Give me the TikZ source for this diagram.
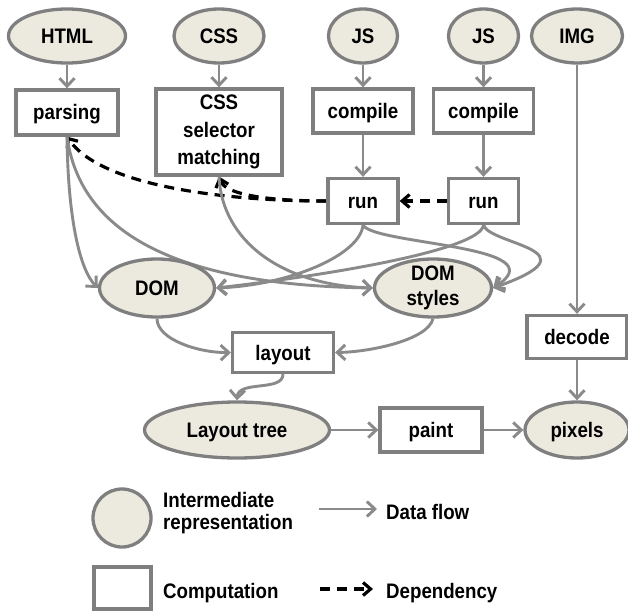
\documentclass[tikz,border=0pt]{standalone}
\usepackage{fontspec}
\setmainfont{Liberation Sans}[FakeStretch=0.89]
\usetikzlibrary{shapes.geometric,arrows.meta,backgrounds}
\definecolor{irfill}{HTML}{ECEADF}
\definecolor{bordergray}{HTML}{7F7F7F}
\definecolor{linegray}{HTML}{8A8A8A}
\begin{document}
\begin{tikzpicture}[x=1pt,y=-1pt,
  every node/.style={font=\bfseries\fontsize{21pt}{25pt}\selectfont, text=black},
  irnode/.style={ellipse, draw=bordergray, line width=3.3pt, fill=irfill, inner sep=0pt},
  compbox/.style={rectangle, draw=bordergray, line width=3.3pt, fill=white, inner sep=0pt},
  oneline/.style={text height=15pt, text depth=0pt},
  flow/.style={draw=linegray, line width=2.9pt, -{Straight Barb[length=8pt,width=15pt]}},
  dep/.style={draw=black, line width=3.2pt, dash pattern=on 10pt off 7pt, -{Straight Barb[length=7.5pt,width=13pt]}},
  legtext/.style={anchor=west, inner sep=0pt},
]
\useasboundingbox (0,0) rectangle (628,612);

% inputs
\node[irnode, oneline, minimum width=117pt, minimum height=54pt] (html) at (67,36) {HTML};
\node[irnode, oneline, minimum width=90pt, minimum height=54pt] (css) at (219,36) {CSS};
\node[irnode, oneline, minimum width=69pt, minimum height=54pt] (js1) at (363,36) {JS};
\node[irnode, oneline, minimum width=70pt, minimum height=54pt] (js2) at (483.5,36) {JS};
\node[irnode, oneline, minimum width=91pt, minimum height=54pt] (img) at (577,36) {IMG};

% computations
\node[compbox, oneline, minimum width=102pt, minimum height=45pt] (parsing) at (67,112.5) {parsing};
\node[compbox, align=center, font=\bfseries\fontsize{21pt}{27.5pt}\selectfont, minimum width=126pt, minimum height=86pt] (cssm) at (219,132) {CSS\\selector\\matching};
\node[compbox, oneline, minimum width=100pt, minimum height=44pt] (comp1) at (363,111) {compile};
\node[compbox, oneline, minimum width=100pt, minimum height=44pt] (comp2) at (483.5,111) {compile};
\node[compbox, oneline, minimum width=70pt, minimum height=45pt] (run1) at (363,201) {run};
\node[compbox, oneline, minimum width=70pt, minimum height=45pt] (run2) at (483.5,201) {run};

% intermediate
\node[irnode, oneline, minimum width=115pt, minimum height=58pt] (dom) at (157,288) {DOM};
\node[irnode, align=center, inner ysep=-3pt, minimum width=117pt, minimum height=58pt] (ds) at (433,288) {DOM\\styles};
\node[compbox, oneline, minimum width=101pt, minimum height=40pt] (layout) at (283,352.5) {layout};
\node[compbox, oneline, minimum width=100pt, minimum height=43pt] (decode) at (577,337) {decode};
\node[irnode, oneline, minimum width=185pt, minimum height=56pt] (lt) at (237,430) {Layout tree};
\node[compbox, oneline, minimum width=102pt, minimum height=44pt] (paint) at (431,430) {paint};
\node[irnode, oneline, minimum width=104pt, minimum height=56pt] (pixels) at (577,430) {pixels};

% legend
\node[irnode, minimum width=58pt, minimum height=58pt] (legir) at (122,518) {};
\node[compbox, minimum width=57pt, minimum height=42pt] (legbox) at (122.5,588) {};
\node[legtext, align=left, font=\bfseries\fontsize{21pt}{22pt}\selectfont] (legirtxt) at (163,513.5) {Intermediate\\representation};
\node[legtext, oneline] (legcomp) at (163,590.5) {Computation};
\node[legtext, oneline] (legflow) at (386,511.5) {Data flow};
\node[legtext, oneline] (legdep) at (386,590.5) {Dependency};
\coordinate (dfa) at (319,509);
\coordinate (dfb) at (377,509);
\coordinate (dpa) at (320,589);
\coordinate (dpb) at (373,589);

\begin{pgfonlayer}{background}
\draw[flow] (html) -- (parsing);
\draw[flow] (css) -- (cssm);
\draw[flow] (js1) -- (comp1);
\draw[flow] (js2) -- (comp2);
\draw[flow] (img) -- (decode);
\draw[flow] (decode) -- (pixels);
\draw[flow] (comp1) -- (run1);
\draw[flow] (comp2) -- (run2);
\draw[flow] (lt) -- (paint);
\draw[flow] (paint) -- (pixels);

\draw[dep] (run2) -- (run1);
\draw[dep] (run1.west) .. controls (220,201) and (100,185) .. (parsing.south);
\draw[dep] (run1.west) .. controls (270,201) and (225,195) .. (cssm.south);

\draw[flow] (parsing.south) .. controls (68,220) and (80,270) .. (dom.west);
\draw[flow] (parsing.south) .. controls (80,230) and (170,285) .. (ds.west);
\draw[flow] (cssm.south) .. controls (222,240) and (280,285) .. (ds.west);
\draw[flow] (run1.south) .. controls (360,255) and (290,285) .. (dom.east);
\draw[flow] (run2.south) .. controls (480,250) and (330,275) .. (dom.east);
\draw[flow] (run1.south) .. controls (375,245) and (560,245) .. (ds.east);
\draw[flow] (run2.south) .. controls (490,245) and (600,250) .. (ds.east);
\draw[flow] (dom.south) .. controls (157,340) and (200,353) .. (layout.west);
\draw[flow] (ds.south) .. controls (428,340) and (370,352) .. (layout.east);
\draw[flow] (layout.south) .. controls (283,392) and (238,380) .. (lt.north);

\draw[flow] (dfa) -- (dfb);
\draw[dep] (dpa) -- (dpb);
\end{pgfonlayer}
\end{tikzpicture}
\end{document}
